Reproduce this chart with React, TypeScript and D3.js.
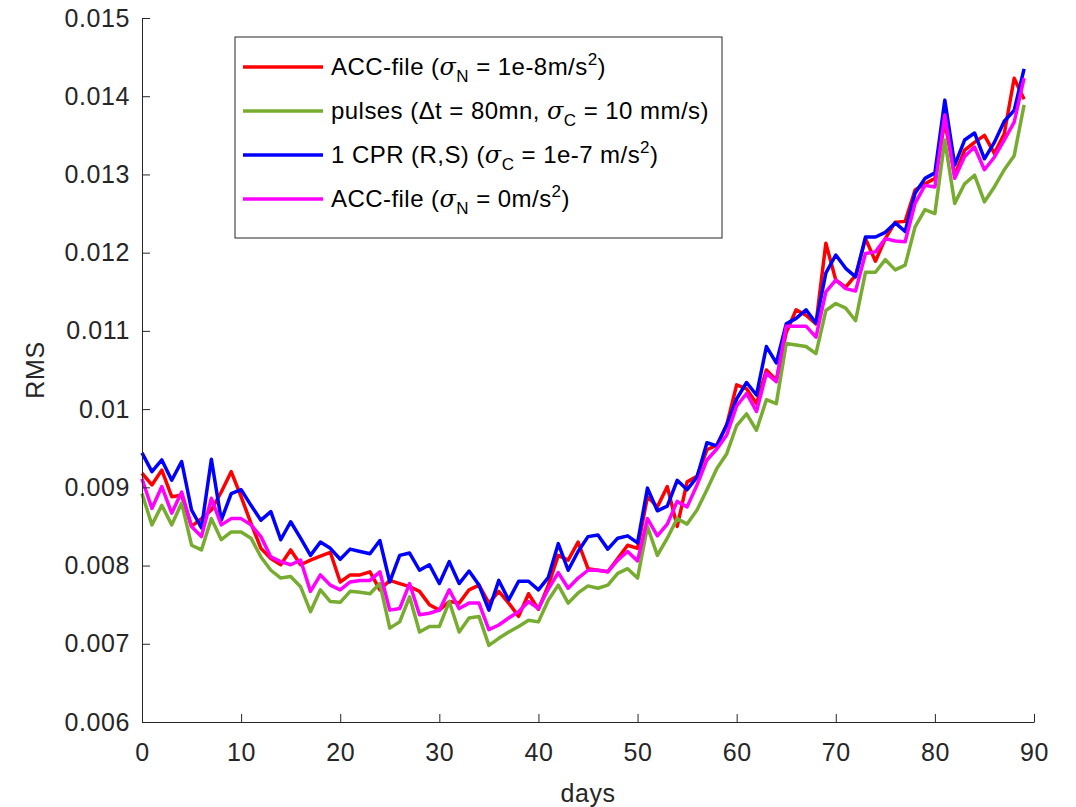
import React, { useRef, useEffect } from 'react';
import * as d3 from 'd3';

// days 0..89
const days = Array.from({ length: 90 }, (_, i) => i);

const accFileN = [
  0.00918, 0.00903, 0.00922, 0.00888, 0.0089, 0.0085, 0.0086, 0.00871, 0.00894, 0.0092,
  0.00888, 0.00854, 0.00822, 0.00809, 0.00801, 0.0082, 0.00801, 0.00807, 0.00812, 0.00817,
  0.00779, 0.00788, 0.00788, 0.00792, 0.00769, 0.00781, 0.00777, 0.00773, 0.00767, 0.0075,
  0.00743, 0.00754, 0.00752, 0.00769, 0.00775, 0.00752, 0.00767, 0.00752, 0.00735, 0.00764,
  0.00744, 0.00775, 0.00813, 0.00807, 0.0083, 0.00796, 0.00794, 0.00792, 0.00809, 0.00826,
  0.00822, 0.00888, 0.00875, 0.00901, 0.0085, 0.00907, 0.00914, 0.00948, 0.00954, 0.0098,
  0.01031, 0.01026, 0.01007, 0.0105, 0.01037, 0.01098, 0.01127, 0.0112, 0.01109, 0.01212,
  0.01165, 0.01156, 0.01171, 0.01218, 0.01189, 0.01218, 0.01239, 0.0124, 0.0128, 0.01288,
  0.01295, 0.01367, 0.01299, 0.01331, 0.01341, 0.0135, 0.01327, 0.01352, 0.01423, 0.01396,
];

const pulses = [
  0.00892, 0.00852, 0.00877, 0.00852, 0.0088, 0.00826, 0.0082, 0.0086, 0.00833, 0.00843,
  0.00843, 0.00835, 0.00811, 0.00794, 0.00784, 0.00786, 0.00773, 0.00741, 0.00769, 0.00754,
  0.00753, 0.00767, 0.00766, 0.00764, 0.00777, 0.0072, 0.00728, 0.0076, 0.00715, 0.00722,
  0.00722, 0.00754, 0.00715, 0.00733, 0.00735, 0.00698, 0.00707, 0.00715, 0.00722, 0.0073,
  0.00728, 0.00756, 0.00775, 0.00752, 0.00765, 0.00774, 0.00771, 0.00775, 0.0079, 0.00796,
  0.00784, 0.0085, 0.00813, 0.00835, 0.0086, 0.00853, 0.00871, 0.00897, 0.00924, 0.00943,
  0.00979, 0.00994, 0.00973, 0.01012, 0.01007, 0.01084, 0.01082, 0.0108, 0.01071, 0.01126,
  0.01135, 0.01129, 0.01113, 0.01175, 0.01175, 0.01191, 0.01178, 0.01184, 0.01233, 0.01255,
  0.0125, 0.01344, 0.01263, 0.01288, 0.01299, 0.01265, 0.01284, 0.01306, 0.01324, 0.01389,
];

const cpr = [
  0.00944, 0.0092, 0.00935, 0.00909, 0.00933, 0.00871, 0.00848, 0.00936, 0.00858, 0.00892,
  0.00897, 0.00877, 0.00858, 0.00869, 0.00833, 0.00856, 0.00835, 0.00813, 0.0083, 0.00822,
  0.00808, 0.00821, 0.00818, 0.00815, 0.00832, 0.00779, 0.00813, 0.00816, 0.00794, 0.00801,
  0.00777, 0.00805, 0.00777, 0.00793, 0.00775, 0.00743, 0.00781, 0.00756, 0.0078, 0.0078,
  0.00769, 0.00785, 0.00828, 0.00794, 0.00818, 0.00837, 0.00839, 0.00821, 0.00835, 0.00838,
  0.00829, 0.00899, 0.0087, 0.00876, 0.00909, 0.00897, 0.00913, 0.00957, 0.00953, 0.0098,
  0.01013, 0.01034, 0.01018, 0.0108, 0.01059, 0.01109, 0.01116, 0.01127, 0.0111, 0.01174,
  0.01197, 0.0118, 0.01169, 0.0122, 0.0122, 0.01226, 0.01238, 0.01227, 0.01276, 0.01295,
  0.01302, 0.01395, 0.01312, 0.01344, 0.01353, 0.0132, 0.01341, 0.01368, 0.01382, 0.01435,
];

const accFile0 = [
  0.00911, 0.00873, 0.00901, 0.00867, 0.00894, 0.0085, 0.00837, 0.00886, 0.00852, 0.0086,
  0.0086, 0.00852, 0.00837, 0.00811, 0.00805, 0.00801, 0.00807, 0.00767, 0.00788, 0.00775,
  0.00769, 0.00779, 0.00781, 0.00781, 0.00792, 0.00743, 0.00745, 0.00777, 0.00737, 0.00739,
  0.00743, 0.00769, 0.00745, 0.00752, 0.00752, 0.00718, 0.00724, 0.00733, 0.00741, 0.00754,
  0.00745, 0.0077, 0.00791, 0.00771, 0.00784, 0.00794, 0.00794, 0.00792, 0.00807, 0.00818,
  0.00806, 0.0086, 0.00838, 0.00853, 0.00882, 0.00875, 0.00903, 0.00935, 0.00949, 0.00967,
  0.01004, 0.0102, 0.00997, 0.01046, 0.01035, 0.01106, 0.01106, 0.01106, 0.01092, 0.0115,
  0.01165, 0.01154, 0.01151, 0.01199, 0.01201, 0.01218, 0.01215, 0.01214, 0.01263, 0.01286,
  0.01284, 0.01376, 0.01295, 0.01323, 0.01335, 0.01306, 0.01322, 0.01344, 0.01367, 0.01423,
];

const xTicks = [0, 10, 20, 30, 40, 50, 60, 70, 80, 90];
const yTicks = [0.006, 0.007, 0.008, 0.009, 0.01, 0.011, 0.012, 0.013, 0.014, 0.015];
const yTickLabels = ['0.006', '0.007', '0.008', '0.009', '0.01', '0.011', '0.012', '0.013', '0.014', '0.015'];

// legend: [before sigma, subscript, after, superscript, tail]
const seriesNames = [
  ['ACC-file (', 'N', ' = 1e-8m/s', '2', ')'],
  ['pulses (\u0394t = 80mn, ', 'C', ' = 10 mm/s)', '', ''],
  ['1 CPR (R,S) (', 'C', ' = 1e-7 m/s', '2', ')'],
  ['ACC-file (', 'N', ' = 0m/s', '2', ')'],
];
const seriesColors = ['#ff0000', '#77ac30', '#0000ff', '#ff00ff'];
const seriesData = [accFileN, pulses, cpr, accFile0];

const FONT = '"Liberation Sans", Arial, Helvetica, sans-serif';
const AXIS_COLOR = '#262626';

export default function App() {
  const xAxisRef = useRef<SVGGElement>(null);
  const yAxisRef = useRef<SVGGElement>(null);

  // SET DIMENSIONS
  const w = 1076,
    h = 807,
    margin = { top: 18, bottom: 85, left: 142, right: 42 };

  const xScale = d3.scaleLinear().domain([0, 90]).range([margin.left, w - margin.right]);
  const yScale = d3.scaleLinear().domain([0.006, 0.015]).range([h - margin.bottom, margin.top]);

  const line = d3
    .line<number>()
    .x((_, i) => xScale(days[i]))
    .y((d) => yScale(d));

  useEffect(() => {
    const xAxis = d3
      .axisBottom(xScale)
      .tickValues(xTicks)
      .tickSizeInner(-8)
      .tickSizeOuter(0)
      .tickPadding(21)
      .tickFormat((d) => String(d));
    const yAxis = d3
      .axisLeft(yScale)
      .tickValues(yTicks)
      .tickSizeInner(-8)
      .tickSizeOuter(0)
      .tickPadding(12)
      .tickFormat((_, i) => yTickLabels[i]);

    const gx = d3.select(xAxisRef.current).call(xAxis);
    const gy = d3.select(yAxisRef.current).call(yAxis);
    [gx, gy].forEach((g) => {
      g.attr('font-family', FONT).attr('font-size', 25);
      g.selectAll('path, line').attr('stroke', AXIS_COLOR);
      g.selectAll('text').attr('fill', AXIS_COLOR).attr('letter-spacing', 0.6);
    });
  }, []);

  const legendX = 235,
    legendY = 37,
    legendW = 487,
    legendH = 201,
    rowGap = 44,
    firstRow = 67;

  return (
    <svg width={w} height={h} style={{ position: 'absolute', left: 0, top: 0, background: '#fff' }}>
      <rect x={0} y={0} width={w} height={h} fill="#fff" />

      {seriesData.map((s, i) => (
        <path
          key={i}
          d={line(s) || ''}
          fill="none"
          stroke={seriesColors[i]}
          strokeWidth={3.5}
          strokeLinejoin="round"
        />
      ))}

      <g ref={xAxisRef} transform={`translate(0,${h - margin.bottom})`} />
      <g ref={yAxisRef} transform={`translate(${margin.left},0)`} />

      <text
        x={(margin.left + w - margin.right) / 2}
        y={802}
        textAnchor="middle"
        fontFamily={FONT}
        fontSize={25}
        letterSpacing={0.6}
        fill={AXIS_COLOR}
      >
        days
      </text>
      <text
        transform={`translate(44,${(margin.top + h - margin.bottom) / 2}) rotate(-90)`}
        textAnchor="middle"
        fontFamily={FONT}
        fontSize={25}
        letterSpacing={0.6}
        fill={AXIS_COLOR}
      >
        RMS
      </text>

      {/* LEGEND */}
      <rect x={legendX} y={legendY} width={legendW} height={legendH} fill="#fff" stroke={AXIS_COLOR} strokeWidth={1} />
      {seriesNames.map((n, i) => {
        const y = firstRow + i * rowGap;
        return (
          <g key={i}>
            <line x1={243} x2={323} y1={y} y2={y} stroke={seriesColors[i]} strokeWidth={3.5} />
            <text x={331} y={y + 8} fontFamily={FONT} fontSize={24} letterSpacing={0.45} fill="#000">
              <tspan>{n[0]}</tspan>
              <tspan fontStyle="italic" fontFamily='"DejaVu Serif", serif'>{'\u03c3'}</tspan>
              <tspan fontSize={17} dy={7}>{n[1]}</tspan>
              <tspan dy={-7}>{n[2]}</tspan>
              {n[3] && (
                <tspan fontSize={17} dy={-10}>
                  {n[3]}
                </tspan>
              )}
              {n[4] && <tspan dy={10}>{n[4]}</tspan>}
            </text>
          </g>
        );
      })}
    </svg>
  );
}
